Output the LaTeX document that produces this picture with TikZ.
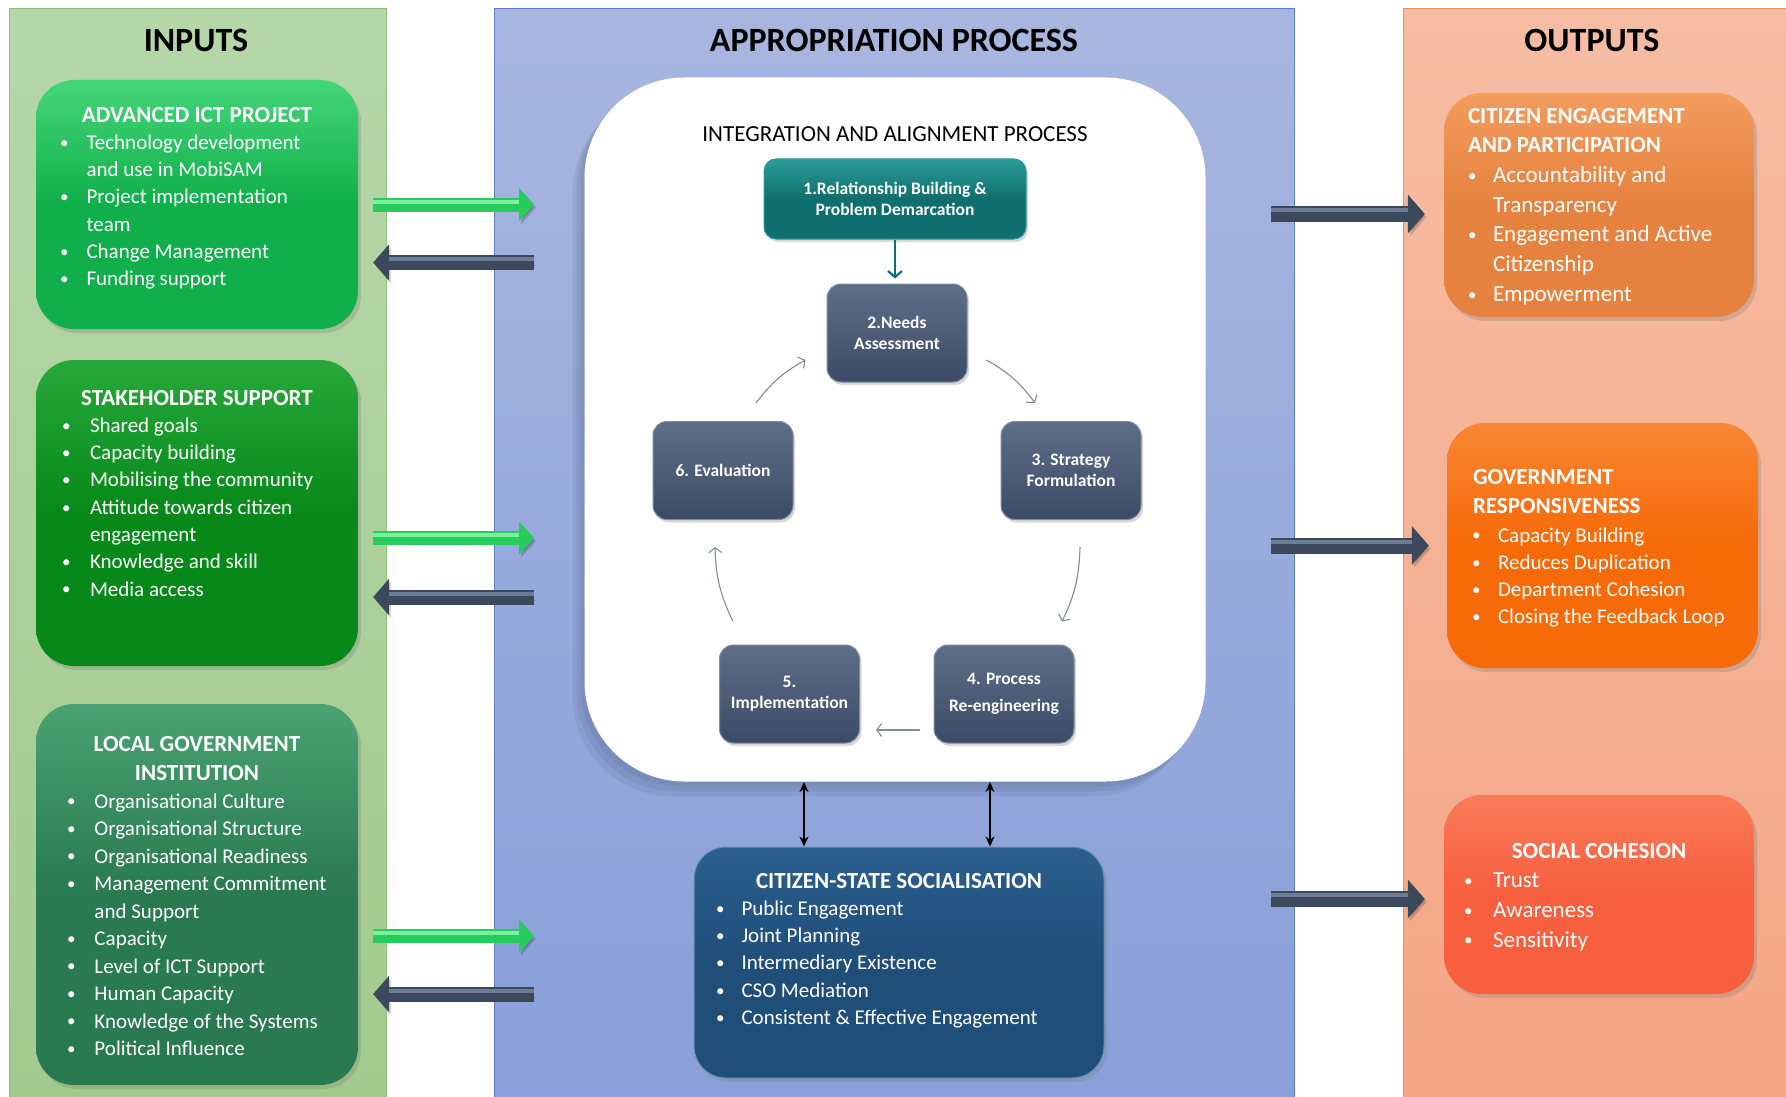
\documentclass[tikz,border=0pt]{standalone}
\usepackage{fontspec}
\setmainfont{Carlito}
\usetikzlibrary{arrows.meta,shadows}

% column colours
\definecolor{ingreentop}{HTML}{B6D7A8}
\definecolor{ingreenbot}{HTML}{A2CA8D}
\definecolor{ingreenline}{HTML}{8FC27B}
\definecolor{apbluetop}{HTML}{A8B6DF}
\definecolor{apbluebot}{HTML}{889FD9}
\definecolor{apblueline}{HTML}{5A7ED2}
\definecolor{outtop}{HTML}{F6BDA4}
\definecolor{outbot}{HTML}{F5A684}
\definecolor{orangeline}{HTML}{EF8C55}
\definecolor{shadowblue}{HTML}{4A5A80}
% box colours
\definecolor{ictgreen}{HTML}{10AF4B}
\definecolor{ictlt}{HTML}{45D679}
\definecolor{stakegreen}{HTML}{07891A}
\definecolor{stakelt}{HTML}{28A83B}
\definecolor{lgigreen}{HTML}{297A4F}
\definecolor{lgilt}{HTML}{4AA272}
\definecolor{citorange}{HTML}{E6823F}
\definecolor{citlt}{HTML}{F29C5E}
\definecolor{govorange}{HTML}{F66A08}
\definecolor{govlt}{HTML}{F98634}
\definecolor{socred}{HTML}{F75F3E}
\definecolor{soclt}{HTML}{FA7B5A}
\definecolor{cssblue}{HTML}{1F4E79}
\definecolor{csslt}{HTML}{2C5F8E}
\definecolor{relteal}{HTML}{0F6F6E}
\definecolor{reltealt}{HTML}{2A9C98}
\definecolor{stagetop}{HTML}{5F6E88}
\definecolor{stagebot}{HTML}{3B4A66}
% arrow colours
\definecolor{arrowgreen}{HTML}{27CC5C}
\definecolor{arrowgreenlt}{HTML}{7CF0A0}
\definecolor{arrowslate}{HTML}{3C495D}
\definecolor{arrowslatelt}{HTML}{6E7D96}
\definecolor{cyclegray}{HTML}{7F8C9C}

% text inside the list boxes
\newcommand\boxbody[6][21]{\parbox[c][#3][t]{#2}{\fontsize{#1}{#4}\selectfont\vspace*{#5}#6}}
\newcommand\boxhead[1]{{\centering\fontsize{23}{\baselineskip}\selectfont\bfseries #1\par}}
\newcommand\lhead[2]{{\leftskip=#1\relax\fontsize{23}{\baselineskip}\selectfont\bfseries #2\par}}
\newcommand\itm[1]{\par\hangindent=\tx\hangafter=1\noindent
  \makebox[\tx][l]{\hspace*{\bx}\raisebox{1.2pt}{\fontsize{17}{17}\selectfont\textbullet}}#1}

\tikzset{
  panel/.style={anchor=north west, inner sep=0pt, line width=1pt},
  coltitle/.style={font=\fontsize{34}{40}\selectfont\bfseries, text=black},
  listbox/.style={rounded corners=38pt, inner sep=0pt, text=white,
    drop shadow={opacity=.3, shadow xshift=3pt, shadow yshift=-4pt}},
  stagebox/.style={rounded corners=14pt, minimum width=140pt, minimum height=98pt,
    top color=stagetop, bottom color=stagebot, draw=stagetop!80!white, line width=1pt,
    text=white, align=center, font=\fontsize{17.5}{21}\selectfont\bfseries,
    drop shadow={opacity=.3, shadow xshift=2pt, shadow yshift=-3pt}},
  iapshadow/.style={
    drop shadow={shadow xshift=-4pt, shadow yshift=-5pt, opacity=.12, fill=shadowblue},
    drop shadow={shadow xshift=-8pt, shadow yshift=-10pt, opacity=.12, fill=shadowblue},
    drop shadow={shadow xshift=-12pt, shadow yshift=-15pt, opacity=.12, fill=shadowblue}},
  inarr/.style={line width=14pt, draw=arrowgreen, -{Triangle[length=15pt,width=32pt]},
    preaction={draw=black, opacity=.15, transform canvas={shift={(2pt,-3pt)}}},
    postaction={draw=arrowgreenlt, -, line width=4pt, shorten >=15pt, transform canvas={yshift=3pt}}},
  backarr/.style={line width=15pt, draw=arrowslate, -{Triangle[length=16pt,width=36pt]},
    preaction={draw=black, opacity=.15, transform canvas={shift={(2pt,-3pt)}}},
    postaction={draw=arrowslatelt, -, line width=4pt, shorten >=16pt, transform canvas={yshift=3.5pt}}},
  outarr/.style={line width=16pt, draw=arrowslate, -{Triangle[length=17pt,width=38pt]},
    preaction={draw=black, opacity=.15, transform canvas={shift={(2pt,-3pt)}}},
    postaction={draw=arrowslatelt, -, line width=4pt, shorten >=17pt, transform canvas={yshift=4pt}}},
  cyc/.style={draw=cyclegray, line width=1.1pt, -{Straight Barb[length=5pt,width=13pt]}, bend left=12},
  dbl/.style={line width=2.4pt, {Stealth[length=10pt,width=9pt]}-{Stealth[length=10pt,width=9pt]}},
}

\begin{document}
\begin{tikzpicture}[x=1pt,y=-1pt]
\useasboundingbox (0,0) rectangle (1786,1097);

% the three columns
\node[panel, draw=ingreenline, top color=ingreentop, bottom color=ingreenbot,
  minimum width=377pt, minimum height=1100pt] (inpanel) at (9,8) {};
\node[panel, draw=apblueline, top color=apbluetop, bottom color=apbluebot,
  minimum width=800pt, minimum height=1100pt] (appr) at (494,8) {};
\node[panel, draw=orangeline, top color=outtop, bottom color=outbot,
  minimum width=400pt, minimum height=1100pt] (outpanel) at (1403,8) {};

\node[coltitle] (intitle) at (196,40) {INPUTS};
\node[coltitle] (aptitle) at (894,40) {APPROPRIATION PROCESS};
\node[coltitle] (outtitle) at (1592,40) {OUTPUTS};

% inputs
\def\bx{24pt}\def\tx{50.5pt}
\node[listbox, top color=ictlt, bottom color=ictgreen, middle color=ictgreen] (ict) at (197,204.5)
  {\boxbody{322pt}{249pt}{27.3pt}{27pt}{\boxhead{ADVANCED ICT PROJECT}%
    \itm{Technology development\\and use in MobiSAM}%
    \itm{Project implementation\\team}%
    \itm{Change Management}%
    \itm{Funding support}}};

\def\bx{26pt}\def\tx{54pt}
\node[listbox, top color=stakelt, bottom color=stakegreen, middle color=stakegreen] (stake) at (197,513)
  {\boxbody{322pt}{306pt}{27.3pt}{30pt}{\boxhead{STAKEHOLDER SUPPORT}%
    \itm{Shared goals}%
    \itm{Capacity building}%
    \itm{Mobilising the community}%
    \itm{Attitude towards citizen\\engagement}%
    \itm{Knowledge and skill}%
    \itm{Media access}}};

\def\bx{31pt}\def\tx{58.5pt}
\node[listbox, top color=lgilt, bottom color=lgigreen, middle color=lgigreen] (lgi) at (197,894.5)
  {\boxbody{322pt}{381pt}{27.5pt}{32pt}{\boxhead{LOCAL GOVERNMENT\\[2pt]INSTITUTION}%
    \itm{Organisational Culture}%
    \itm{Organisational Structure}%
    \itm{Organisational Readiness}%
    \itm{Management Commitment\\and Support}%
    \itm{Capacity}%
    \itm{Level of ICT Support}%
    \itm{Human Capacity}%
    \itm{Knowledge of the Systems}%
    \itm{Political Influence}}};

% integration and alignment cycle
\node[panel, minimum width=621pt, minimum height=704pt, rounded corners=100pt,
  fill=white, iapshadow] (iap) at (584,77) {};
\node[font=\fontsize{23}{27}\selectfont, text=black] (iaptitle) at (895,134)
  {INTEGRATION AND ALIGNMENT PROCESS};

\node[stagebox, minimum width=262pt, minimum height=80pt, rounded corners=12pt,
  top color=reltealt, bottom color=relteal, middle color=relteal, draw=reltealt] (rel) at (895,199)
  {1.Relationship Building \&\\Problem Demarcation};
\node[stagebox] (need) at (897,333) {2.Needs\\Assessment};
\node[stagebox] (str) at (1071,470.5) {3. Strategy\\Formulation};
\node[stagebox] (prc) at (1004,694) {4. Process\\[6pt]Re-engineering};
\node[stagebox] (imp) at (789.5,694) {5.\\Implementation};
\node[stagebox] (evl) at (723,470.5) {6. Evaluation};

\draw[draw=relteal, line width=2.2pt, -{Straight Barb[length=6pt,width=14pt]}, shorten >=5pt]
  (rel.south) -- (rel.south |- need.north);
\draw[cyc] ([shift={(33pt,18pt)}]evl.north) to ([shift={(-21pt,-27pt)}]need.west);
\draw[cyc] ([shift={(19pt,-27pt)}]need.east) to ([shift={(-36pt,18pt)}]str.north);
\draw[cyc] ([shift={(9pt,-27pt)}]str.south) to ([shift={(58pt,23pt)}]prc.north);
\draw[cyc] ([shift={(-14pt,-36pt)}]prc.west) -- ([shift={(16pt,-36pt)}]imp.east);
\draw[cyc] ([shift={(-56.5pt,23pt)}]imp.north) to ([shift={(-8pt,-27pt)}]evl.south);

% citizen-state socialisation
\def\bx{22pt}\def\tx{47.5pt}
\node[listbox, rounded corners=32pt, top color=csslt, bottom color=cssblue, middle color=cssblue,
  draw=csslt!70!white, line width=1pt] (css) at (899,962.5)
  {\boxbody{410pt}{231pt}{27.3pt}{26pt}{\boxhead{CITIZEN-STATE SOCIALISATION}%
    \itm{Public Engagement}%
    \itm{Joint Planning}%
    \itm{Intermediary Existence}%
    \itm{CSO Mediation}%
    \itm{Consistent \& Effective Engagement}}};

\draw[dbl] ([xshift=-95pt]css.north) -- ([xshift=-95pt]css.north |- iap.south);
\draw[dbl] ([xshift=91pt]css.north) -- ([xshift=91pt]css.north |- iap.south);

% outputs
\def\bx{24pt}\def\tx{49pt}
\node[listbox, top color=citlt, bottom color=citorange, middle color=citorange] (cit) at (1599,205)
  {\boxbody[23]{310pt}{224pt}{29.7pt}{15pt}{\lhead{24pt}{CITIZEN ENGAGEMENT\\AND PARTICIPATION}%
    \itm{Accountability and\\Transparency}%
    \itm{Engagement and Active\\Citizenship}%
    \itm{Empowerment}}};

\def\bx{25pt}\def\tx{51pt}
\node[listbox, top color=govlt, bottom color=govorange, middle color=govorange] (gov) at (1602.5,545.5)
  {\boxbody{311pt}{245pt}{27.3pt}{46pt}{\lhead{26pt}{GOVERNMENT\\[2.4pt]RESPONSIVENESS}\vspace{1pt}%
    \itm{Capacity Building}%
    \itm{Reduces Duplication}%
    \itm{Department Cohesion}%
    \itm{Closing the Feedback Loop}}};

\def\bx{20pt}\def\tx{49pt}
\node[listbox, top color=soclt, bottom color=socred, middle color=socred] (soc) at (1599,894.5)
  {\boxbody[23]{310pt}{199pt}{29.7pt}{48pt}{\boxhead{SOCIAL COHESION}%
    \itm{Trust}%
    \itm{Awareness}%
    \itm{Sensitivity}}};

% arrows between the columns
\draw[inarr] ([xshift=15pt]ict.east) -- ([xshift=176pt]ict.east);
\draw[backarr] ([shift={(176pt,-58pt)}]ict.east) -- ([shift={(15pt,-58pt)}]ict.east);
\draw[inarr] ([shift={(15pt,-25pt)}]stake.east) -- ([shift={(176pt,-25pt)}]stake.east);
\draw[backarr] ([shift={(176pt,-84pt)}]stake.east) -- ([shift={(15pt,-84pt)}]stake.east);
\draw[inarr] ([shift={(15pt,-41.5pt)}]lgi.east) -- ([shift={(176pt,-41.5pt)}]lgi.east);
\draw[backarr] ([shift={(176pt,-99.5pt)}]lgi.east) -- ([shift={(15pt,-99.5pt)}]lgi.east);

\draw[outarr] ([shift={(-173pt,-9pt)}]cit.west) -- ([shift={(-19pt,-9pt)}]cit.west);
\draw[outarr] ([shift={(-176pt,0pt)}]gov.west) -- ([shift={(-18pt,0pt)}]gov.west);
\draw[outarr] ([shift={(-173pt,-4.5pt)}]soc.west) -- ([shift={(-19pt,-4.5pt)}]soc.west);
\end{tikzpicture}
\end{document}
